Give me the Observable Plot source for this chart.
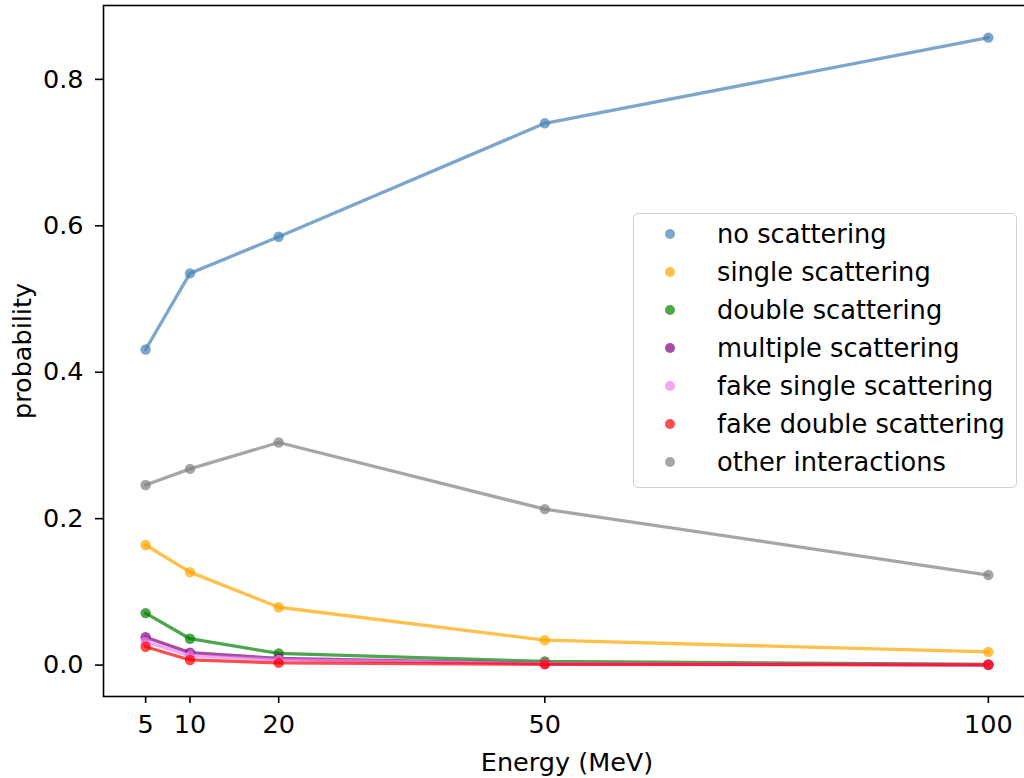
<!DOCTYPE html>
<html>
<head>
<meta charset="utf-8">
<script src="https://cdn.jsdelivr.net/npm/d3@7"></script>
<script src="https://cdn.jsdelivr.net/npm/@observablehq/plot@0.6"></script>
<style>
  html, body { margin: 0; padding: 0; background: #fff; overflow: hidden; }
  #wrap { position: relative; width: 1024px; height: 778px; overflow: hidden; font-family: "DejaVu Sans", sans-serif; }
  #wrap svg { max-width: none !important; display: block; }
  #legend { position: absolute; left: 633px; top: 213px; width: 384px; height: 275px; box-sizing: border-box;
    border: 1.5px solid #d0d0d0; border-radius: 5px; background: rgba(255,255,255,0.8); }
  .row { position: absolute; left: 0; height: 38px; display: flex; align-items: center; font-size: 25.7px; color: #000; }
  .sw { position: absolute; left: 31px; width: 10px; height: 10px; border-radius: 50%; }
  .lab { position: absolute; left: 83px; white-space: nowrap; }
</style>
</head>
<body>
<div id="wrap"></div>
<script>
const energies = [5, 10, 20, 50, 100];
const seriesNames = ["no scattering", "single scattering", "double scattering", "multiple scattering", "fake single scattering", "fake double scattering", "other interactions"];
const seriesColors = ["#4682b4", "#ffa500", "#008000", "#800080", "#ee82ee", "#ff0000", "#808080"];
const noScattering = [0.431, 0.535, 0.585, 0.740, 0.857];
const singleScattering = [0.164, 0.127, 0.079, 0.034, 0.018];
const doubleScattering = [0.071, 0.036, 0.016, 0.005, 0.001];
const multipleScattering = [0.038, 0.017, 0.009, 0.002, 0.0005];
const fakeSingleScattering = [0.032, 0.013, 0.007, 0.002, 0.0005];
const fakeDoubleScattering = [0.025, 0.007, 0.003, 0.001, 0.0003];
const otherInteractions = [0.246, 0.268, 0.304, 0.213, 0.123];
const xTicks = [5, 10, 20, 50, 100];
const yTicks = [0.0, 0.2, 0.4, 0.6, 0.8];

const allSeries = [noScattering, singleScattering, doubleScattering, multipleScattering, fakeSingleScattering, fakeDoubleScattering, otherInteractions];
const data = [];
allSeries.forEach((vals, i) => vals.forEach((v, j) => data.push({series: seriesNames[i], energy: energies[j], p: v})));

const font = "DejaVu Sans";
const fs = 25.5;
const marks = [];
seriesNames.forEach((name, i) => {
  const d = data.filter(r => r.series === name);
  marks.push(Plot.line(d, {x: "energy", y: "p", stroke: seriesColors[i], strokeWidth: 3.3, strokeOpacity: 0.7}));
  marks.push(Plot.dot(d, {x: "energy", y: "p", fill: seriesColors[i], fillOpacity: 0.7, r: 5.2}));
});

const chart = Plot.plot({
  width: 1032,
  height: 778,
  marginLeft: 103,
  marginRight: 2,
  marginTop: 5,
  marginBottom: 82,
  style: {fontFamily: font, background: "transparent", overflow: "visible", maxWidth: "none"},
  x: {domain: [0.25, 104.75]},
  y: {domain: [-0.0429, 0.9009]},
  marks: [
    ...marks,
    Plot.frame({stroke: "#000", strokeWidth: 1.6}),
    Plot.axisX({ticks: xTicks, tickFormat: d => String(d), tickSize: 7, tickPadding: 11, fontSize: fs, label: null, strokeWidth: 1.6}),
    Plot.axisY({ticks: yTicks, tickFormat: d => d.toFixed(1), tickSize: 8, tickPadding: 12, fontSize: fs, label: null, strokeWidth: 1.6}),
    Plot.text(["Energy (MeV)"], {frameAnchor: "bottom", dy: 66, fontSize: fs, text: d => d, fill: "#000", textAnchor: "middle", lineAnchor: "middle"}),
    Plot.text(["probability"], {frameAnchor: "left", dx: -81, rotate: -90, fontSize: fs, text: d => d, fill: "#000", textAnchor: "middle", lineAnchor: "middle"})
  ]
});
const wrap = document.getElementById("wrap");
wrap.appendChild(chart);

const legend = document.createElement("div");
legend.id = "legend";
seriesNames.forEach((name, i) => {
  const row = document.createElement("div");
  row.className = "row";
  row.style.top = (1 + i * 38) + "px";
  const sw = document.createElement("span");
  sw.className = "sw";
  sw.style.background = seriesColors[i];
  sw.style.opacity = 0.7;
  const lab = document.createElement("span");
  lab.className = "lab";
  lab.textContent = name;
  row.appendChild(sw);
  row.appendChild(lab);
  legend.appendChild(row);
});
wrap.appendChild(legend);
</script>
</body>
</html>
